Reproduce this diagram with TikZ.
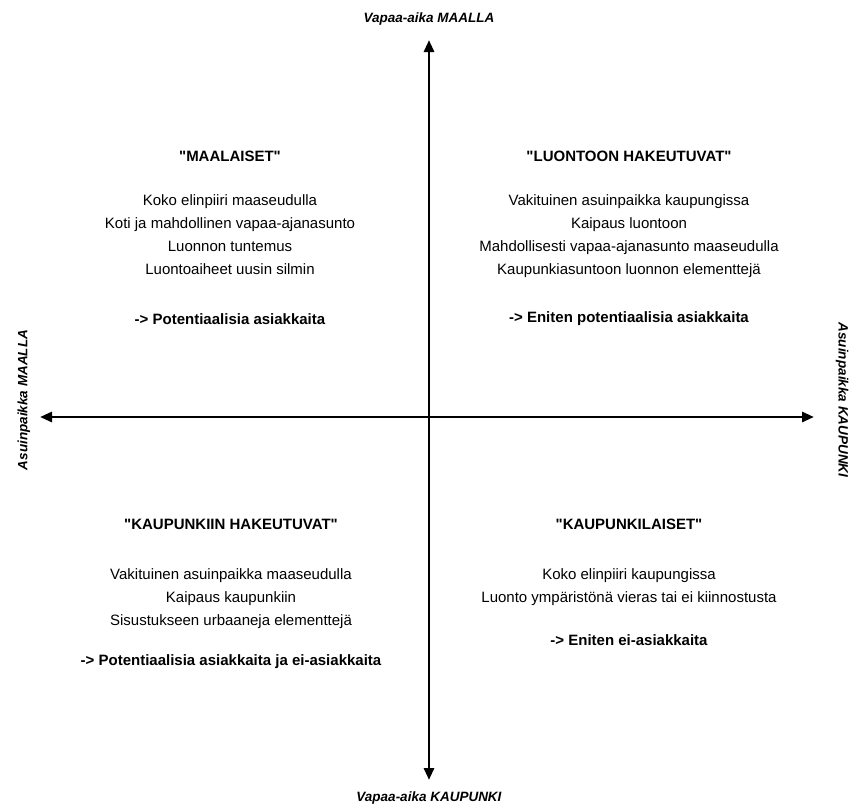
\documentclass[tikz,border=0pt]{standalone}
\usepackage{fontspec}
\setmainfont{Liberation Sans}
\usetikzlibrary{arrows.meta}
\newcommand{\qq}[1]{\textquotedbl#1\textquotedbl}
\begin{document}
\begin{tikzpicture}[x=1pt,y=-1pt,
  axis/.style={line width=2.8pt,{Triangle[width=10pt,length=12pt]}-{Triangle[width=10pt,length=12pt]}},
  axislabel/.style={font=\fontsize{13.5}{16}\selectfont\bfseries\itshape,inner sep=0pt},
  quadtitle/.style={font=\fontsize{15}{18}\selectfont\bfseries,inner sep=0pt},
  quadbody/.style={font=\fontsize{15}{23}\selectfont,align=center,inner sep=0pt},
  quadnote/.style={font=\fontsize{15}{18}\selectfont\bfseries,inner sep=0pt}]
\useasboundingbox (0,0) rectangle (851,807);

% axis end points
\coordinate (top) at (429,40);
\coordinate (bottom) at (429,780);
\coordinate (left) at (40,417);
\coordinate (right) at (814,417);

% axes
\draw[axis] (bottom) -- (top);
\draw[axis] (left) -- (right);

% axis labels
\node[axislabel] (ltop) at (429,19) {Vapaa-aika MAALLA};
\node[axislabel] (lbottom) at (429,798) {Vapaa-aika KAUPUNKI};
\node[axislabel,rotate=90] (lleft) at (24,400) {Asuinpaikka MAALLA};
\node[axislabel,rotate=-90] (lright) at (842,400) {Asuinpaikka KAUPUNKI};

% upper left quadrant
\node[quadtitle] (tlt) at (230,156) {\qq{MAALAISET}};
\node[quadbody,anchor=north] (tlb) at (230,194) {Koko elinpiiri maaseudulla\\Koti ja mahdollinen vapaa-ajanasunto\\Luonnon tuntemus\\Luontoaiheet uusin silmin};
\node[quadnote] (tln) at (230,319) {-> Potentiaalisia asiakkaita};

% upper right quadrant
\node[quadtitle] (trt) at (629,156) {\qq{LUONTOON HAKEUTUVAT}};
\node[quadbody,anchor=north] (trb) at (629,194) {Vakituinen asuinpaikka kaupungissa\\Kaipaus luontoon\\Mahdollisesti vapaa-ajanasunto maaseudulla\\Kaupunkiasuntoon luonnon elementtejä};
\node[quadnote] (trn) at (629,319) {-> Eniten potentiaalisia asiakkaita};

% lower left quadrant
\node[quadtitle] (blt) at (231,524) {\qq{KAUPUNKIIN HAKEUTUVAT}};
\node[quadbody,anchor=north] (blb) at (231,568) {Vakituinen asuinpaikka maaseudulla\\Kaipaus kaupunkiin\\Sisustukseen urbaaneja elementtejä};
\node[quadnote] (bln) at (231,662) {-> Potentiaalisia asiakkaita ja ei-asiakkaita};

% lower right quadrant
\node[quadtitle] (brt) at (629,524) {\qq{KAUPUNKILAISET}};
\node[quadbody,anchor=north] (brb) at (629,568) {Koko elinpiiri kaupungissa\\Luonto ympäristönä vieras tai ei kiinnostusta};
\node[quadnote] (brn) at (629,640) {-> Eniten ei-asiakkaita};
\end{tikzpicture}
\end{document}
